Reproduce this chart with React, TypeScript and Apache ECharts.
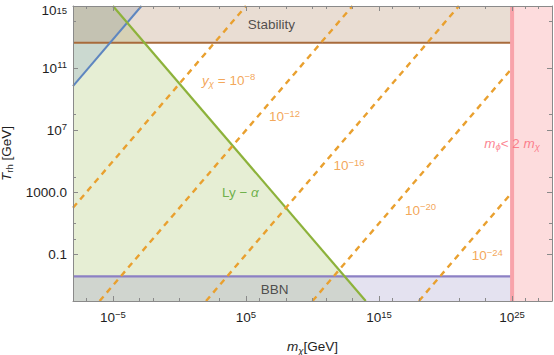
import React, { useEffect, useRef } from 'react';
import * as echarts from 'echarts';

// ---- axis ranges & ticks ----
const X_MIN = 1e-8;
const X_MAX = 1e28;
const Y_MIN = 1e-4;
const Y_MAX = 1e15;
const xMajorTicks = [1e-5, 1e5, 1e15, 1e25];
const xMinorTicks = [1e-7, 1e-3, 1e-2, 1, 1e3, 1e6, 1e8, 1e10, 1e11, 1e13, 1e16, 1e18, 1e21, 1e23, 1e26, 1e27];
const yMajorTicks = [0.1, 1000, 1e7, 1e11, 1e15];
const yMinorTicks = [1, 10, 1e4, 1e8, 1e14];

// ---- constraint boundaries (GeV) ----
const stabilityT = 4.3e12;
const bbnT = 3.8e-3;
const massLimit = 1e25; // m_phi < 2 m_chi
const lyAlphaLine: [number, number][] = [[1e-5, 1e15], [1e14, 1e-4]];
const blueLine: [number, number][] = [[1e-8, 7e9], [1.4e-3, 1e15]];

// ---- y_chi contours ----
const yChiExponents = ['−8', '−12', '−16', '−20', '−24'];
const yChiLines: [number, number][][] = [
  [[1e-8, 1e2], [1e5, 1e15]],
  [[1e-6, 1e-4], [1e13, 1e15]],
  [[1e2, 1e-4], [1e21, 1e15]],
  [[1e10, 1e-4], [1e25, 1e11]],
  [[1e18, 1e-4], [1e25, 1e3]],
];
const yChiLabelPos: [number, number][] = [
  [5e3, 1.7e10],
  [7.8e7, 7.4e7],
  [5.5e12, 5.2e4],
  [1.3e18, 68],
  [1.35e23, 0.085],
];
const stabilityLabelPos: [number, number] = [8e6, 6.9e13];
const bbnLabelPos: [number, number] = [1.4e7, 5.6e-4];
const lyAlphaLabelPos: [number, number] = [3.8e4, 912];
const massLabelPos: [number, number] = [1e25, 1.5e6];

const FONT = 'Liberation Sans, Arial, sans-serif';

const C = {
  green: '#8db23b',
  greenFill: 'rgba(140,179,59,0.22)',
  greenText: '#4fa028',
  blue: '#5e86c0',
  blueFill: 'rgba(94,134,193,0.2)',
  brown: '#a86b3c',
  stabFill: 'rgba(182,142,108,0.3)',
  purple: '#8c80c4',
  bbnFill: 'rgba(138,128,192,0.23)',
  pinkFill: '#fddcdd',
  pinkLine: '#f8a3aa',
  pinkText: '#fb6676',
  orange: '#e9a02f',
  orangeText: '#f0902e',
  axis: '#8a8a8a',
  text: '#1e1e1e',
};

function richFor(color: string, size = 13.5) {
  return {
    n: { fontSize: size, lineHeight: 17, color, fontFamily: FONT },
    it: { fontSize: size, lineHeight: 17, color, fontStyle: 'italic', fontFamily: FONT },
    sup: { fontSize: 9.5, lineHeight: 9, verticalAlign: 'top', color, fontFamily: FONT },
    sub: { fontSize: 9.5, lineHeight: 9, verticalAlign: 'bottom', color, fontFamily: FONT },
    subit: { fontSize: 9.5, lineHeight: 9, verticalAlign: 'bottom', color, fontStyle: 'italic', fontFamily: FONT },
    // top-edge label, pushed down so that it stays inside the page
    nt: { fontSize: size, lineHeight: 17, color, fontFamily: FONT, padding: [8, 0, 0, 0] },
    supt: { fontSize: 9.5, lineHeight: 9, verticalAlign: 'top', color, fontFamily: FONT, padding: [8, 0, 0, 0] },
  };
}

function expLabel(v: number) {
  const e = Math.round(Math.log10(v));
  const s = e < 0 ? '−' + Math.abs(e) : String(e);
  return '{n|10}{sup|' + s + '}';
}

function yTickLabel(v: number) {
  const e = Math.round(Math.log10(v));
  if (e === -1) return '{n|0.1}';
  if (e === 3) return '{n|1000.0}';
  if (e === Math.round(Math.log10(Y_MAX))) return '{nt|10}{supt|' + e + '}';
  return expLabel(v);
}

// keep end ticks inside the axis extent despite float rounding
const inRange = (vals: number[], lo: number, hi: number) =>
  vals.map((v) => Math.min(Math.max(v, lo * 1.00001), hi * 0.99999));

function buildOption() {
  const regions: { pts: [number, number][]; fill: string }[] = [
    { pts: [[X_MIN, Y_MIN], [X_MIN, Y_MAX], lyAlphaLine[0], lyAlphaLine[1]], fill: C.greenFill },
    { pts: [blueLine[0], [X_MIN, Y_MAX], blueLine[1]], fill: C.blueFill },
    { pts: [[X_MIN, stabilityT], [X_MIN, Y_MAX], [massLimit, Y_MAX], [massLimit, stabilityT]], fill: C.stabFill },
    { pts: [[X_MIN, Y_MIN], [X_MIN, bbnT], [massLimit, bbnT], [massLimit, Y_MIN]], fill: C.bbnFill },
  ];
  const pinkRegion: [number, number][] = [[massLimit, Y_MIN], [massLimit, Y_MAX], [X_MAX, Y_MAX], [X_MAX, Y_MIN]];

  const polySeries = (list: { pts: [number, number][]; fill: string }[], z: number) => ({
    type: 'custom',
    xAxisIndex: 0,
    yAxisIndex: 0,
    z,
    silent: true,
    data: list.map((_, i) => [1, 1, i]),
    encode: { x: 0, y: 1 },
    renderItem: (params: any, api: any) => {
      const r = list[api.value(2)];
      return {
        type: 'polygon',
        shape: { points: r.pts.map((p) => api.coord(p)) },
        style: { fill: r.fill },
      };
    },
  });

  const lineSeries = (data: [number, number][], color: string, width: number, z: number, dash?: number[]) => ({
    type: 'line',
    xAxisIndex: 0,
    yAxisIndex: 0,
    data,
    z,
    showSymbol: false,
    symbol: 'none',
    silent: true,
    lineStyle: { color, width, type: dash ? dash : 'solid', cap: 'butt' },
  });

  const labels: any[] = [
    { value: stabilityLabelPos, label: { formatter: '{n|Stability}', rich: richFor('#2a2a2a') } },
    { value: bbnLabelPos, label: { formatter: '{n|BBN}', rich: richFor('#2a2a2a') } },
    { value: lyAlphaLabelPos, label: { formatter: '{n|Ly − }{it|α}', rich: richFor(C.greenText) } },
    { value: massLabelPos, label: { formatter: '{it|m}{subit|ϕ}{n|< 2 }{it|m}{subit|χ}', rich: richFor(C.pinkText) } },
    ...yChiLabelPos.map((p, i) => ({
      value: p,
      label: {
        formatter: i === 0 ? '{it|y}{subit|χ}{n| = 10}{sup|' + yChiExponents[i] + '}' : '{n|10}{sup|' + yChiExponents[i] + '}',
        rich: richFor(C.orangeText),
      },
    })),
  ];

  const xBase = {
    type: 'log',
    logBase: 10,
    min: X_MIN,
    max: X_MAX,
    gridIndex: 0,
    z: 10,
    splitLine: { show: false },
    minorTick: { show: false },
  };
  const yBase = {
    type: 'log',
    logBase: 10,
    min: Y_MIN,
    max: Y_MAX,
    gridIndex: 0,
    z: 10,
    splitLine: { show: false },
    minorTick: { show: false },
  };
  const axisLine = { show: true, onZero: false, lineStyle: { color: C.axis, width: 1 } };
  const noLine = { show: false, onZero: false };
  const major = (vals: number[]) => ({ show: true, inside: true, length: 5, customValues: vals, lineStyle: { color: C.axis } });
  const minor = (vals: number[]) => ({ show: true, inside: true, length: 3, customValues: vals, lineStyle: { color: C.axis } });

  const xMaj = inRange(xMajorTicks, X_MIN, X_MAX);
  const xMin = inRange(xMinorTicks, X_MIN, X_MAX);
  const yMaj = inRange(yMajorTicks, Y_MIN, Y_MAX);
  const yMin = inRange(yMinorTicks, Y_MIN, Y_MAX);

  return {
    animation: false,
    backgroundColor: '#ffffff',
    grid: { left: 73, right: 2, top: 6, bottom: 54, containLabel: false, outerBoundsMode: 'none' },
    xAxis: [
      {
        ...xBase,
        position: 'bottom',
        axisLine,
        axisTick: major(xMaj),
        axisLabel: {
          show: true,
          customValues: xMaj,
          margin: 8,
          formatter: (v: number) => expLabel(v),
          rich: richFor(C.text),
        },
        name: '{it|m}{subit|χ}{n|[GeV]}',
        nameLocation: 'middle',
        nameGap: 37,
        nameTextStyle: { rich: richFor(C.text) },
      },
      { ...xBase, position: 'bottom', axisLine: noLine, axisTick: minor(xMin), axisLabel: { show: false } },
      { ...xBase, position: 'top', axisLine, axisTick: major(xMaj), axisLabel: { show: false } },
      { ...xBase, position: 'top', axisLine: noLine, axisTick: minor(xMin), axisLabel: { show: false } },
    ],
    yAxis: [
      {
        ...yBase,
        position: 'left',
        axisLine,
        axisTick: major(yMaj),
        axisLabel: {
          show: true,
          customValues: yMaj,
          margin: 6,
          formatter: (v: number) => yTickLabel(v),
          rich: richFor(C.text),
        },
        name: '{it|T}{sub|rh}{n| [GeV]}',
        nameLocation: 'middle',
        nameGap: 51,
        nameRotate: 90,
        nameTextStyle: { rich: richFor(C.text) },
      },
      { ...yBase, position: 'left', axisLine: noLine, axisTick: minor(yMin), axisLabel: { show: false } },
      { ...yBase, position: 'right', axisLine, axisTick: major(yMaj), axisLabel: { show: false } },
      { ...yBase, position: 'right', axisLine: noLine, axisTick: minor(yMin), axisLabel: { show: false } },
    ],
    series: [
      polySeries(regions, 1),
      lineSeries([[X_MIN, stabilityT], [massLimit, stabilityT]], C.brown, 2.2, 2),
      lineSeries([[X_MIN, bbnT], [massLimit, bbnT]], C.purple, 2.2, 2),
      lineSeries(blueLine, C.blue, 2, 2),
      lineSeries(lyAlphaLine, C.green, 2.2, 2),
      ...yChiLines.map((l) => lineSeries(l, C.orange, 2.4, 3, [6, 5])),
      polySeries([{ pts: pinkRegion, fill: C.pinkFill }], 4),
      lineSeries([[massLimit, Y_MIN], [massLimit, Y_MAX]], C.pinkLine, 4, 4),
      {
        type: 'scatter',
        xAxisIndex: 0,
        yAxisIndex: 0,
        z: 6,
        silent: true,
        symbol: 'circle',
        symbolSize: 1,
        itemStyle: { color: 'rgba(0,0,0,0)' },
        label: { show: true, position: 'inside', fontFamily: FONT },
        labelLayout: { hideOverlap: false },
        data: labels,
      },
    ],
  };
}

export default function App() {
  const ref = useRef<HTMLDivElement>(null);
  useEffect(() => {
    if (!ref.current) return;
    const chart = echarts.init(ref.current, undefined, { renderer: 'svg' });
    chart.setOption(buildOption() as any);
    return () => chart.dispose();
  }, []);
  return (
    <div
      ref={ref}
      style={{ position: 'absolute', left: 0, top: 0, width: 554, height: 355, background: '#fff' }}
    />
  );
}
